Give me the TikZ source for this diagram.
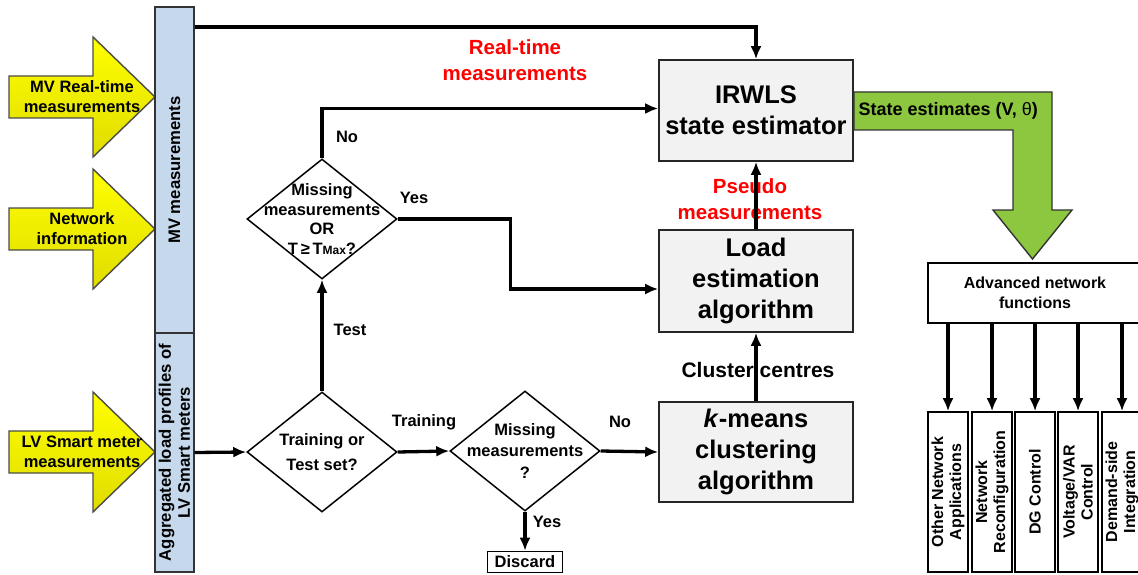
\documentclass[tikz,border=0pt]{standalone}
\usepackage{fontspec}
\setmainfont{Liberation Sans}
\usetikzlibrary{shapes.geometric,arrows.meta}
\definecolor{barblue}{RGB}{198,217,236}
\definecolor{boxgray}{RGB}{242,242,242}
\definecolor{estgreen}{RGB}{141,198,63}
\definecolor{yellowtop}{RGB}{255,255,0}
\definecolor{yellowbot}{RGB}{224,220,0}
\newcommand{\fsz}[2]{\fontsize{#1}{#2}\selectfont}

\begin{document}
\begin{tikzpicture}[x=1pt, y=-1pt, font=\bfseries,
  arr/.style={-{Latex[length=13pt,width=11pt]}, line width=3.3pt},
  blk/.style={draw=black!85, line width=1.6pt, fill=boxgray, minimum width=194,
    minimum height=101, align=center, font=\bfseries\fsz{25.5}{31}},
  dia/.style={draw, diamond, line width=1.5pt, minimum width=150,
    minimum height=120, inner sep=0pt},
  dtxt/.style={align=center, font=\bfseries\fsz{16.5}{19.5}},
  lbl/.style={align=center, font=\bfseries\fsz{16.5}{20}},
  redlbl/.style={align=center, text=red, font=\bfseries\fsz{20.5}{26}},
  bar/.style={draw=black!80, line width=1.4pt, fill=barblue, rotate=90,
    minimum height=39, inner sep=0pt, align=center, font=\bfseries\fsz{16.7}{19}},
  yarrow/.style={draw=black!70, line width=1.4pt, top color=yellowtop,
    bottom color=yellowbot},
  app/.style={draw, line width=1.6pt, rotate=90, minimum width=160,
    minimum height=40, inner sep=0pt, align=center, font=\bfseries\fsz{16}{18}}]
  \useasboundingbox (0,0) rectangle (1138,575);
  \clip (0,0) rectangle (1138,575);

  % inputs
  \foreach \c/\txt/\nm in {97/{MV Real-time\\measurements}/mvin,
      229/{Network\\information}/netin, 452/{LV Smart meter\\measurements}/lvin} {
    \draw[yarrow] (9,\c-21) -- (93,\c-21) -- (93,\c-60) -- (155,\c)
      -- (93,\c+60) -- (93,\c+21) -- (9,\c+21) -- cycle;
    \node[lbl] (\nm) at (82,\c) {\txt};
  }
  \node[bar, minimum width=326] (mvbar) at (174.5,170) {MV measurements};
  \node[bar, minimum width=239] (lvbar) at (174.5,452.5)
    {Aggregated load profiles of\\LV Smart meters};

  % decisions
  \node[dia, label={[dtxt, font=\bfseries\fsz{16.5}{25}]center:{Training or\\Test set?}}]
    (q0) at (322,452) {};
  \node[dia, label={[dtxt]center:{Missing\\measurements\\OR\\T\,≥\,T{\fsz{12}{12}Max}?}}]
    (q1) at (322,219) {};
  \node[dia, label={[dtxt, font=\bfseries\fsz{16.5}{21.5}]center:{Missing\\measurements\\?}}]
    (q2) at (525,451) {};
  \node[draw, line width=1.6pt, minimum width=75, minimum height=21, inner sep=0pt,
    lbl] (discard) at (525,562) {Discard};

  % blocks
  \node[blk] (irwls) at (756,110.5) {IRWLS\\state estimator};
  \node[blk, minimum height=102] (load) at (756,281) {Load\\estimation\\algorithm};
  \node[blk, minimum height=100] (kmeans) at (756,452)
    {\textit{k}-means\\clustering\\algorithm};

  % labels
  \node[redlbl] (rtlbl) at (515,60) {Real-time\\measurements};
  \node[redlbl] (pslbl) at (750,199) {Pseudo\\measurements};
  \node[lbl, font=\bfseries\fsz{21}{22}] (cclbl) at (758,370) {Cluster centres};
  \node[lbl] (testlbl) at (350,330) {Test};
  \node[lbl] (nolbl) at (347,137) {No};
  \node[lbl] (yeslbl) at (414,198) {Yes};
  \node[lbl] (trlbl) at (424,422) {Training};
  \node[lbl] (no2lbl) at (620,422) {No};
  \node[lbl] (yes2lbl) at (547,522) {Yes};

  % connectors
  \draw[arr] (mvbar.south |- 0,27) -- (irwls.north |- 0,27) -- (irwls.north);
  \draw[arr] (lvbar.south) -- (q0.west);
  \draw[arr] (q0.north) -- (q1.south);
  \draw[arr] (q1.north) |- ([yshift=2pt]irwls.west);
  \draw[arr] (q1.east) -- ++(113,0) |- ([yshift=-8pt]load.west);
  \draw[arr] (q0.east) -- (q2.west);
  \draw[arr] (q2.east) -- (kmeans.west);
  \draw[arr] (q2.south) -- (discard.north);
  \draw[arr] (kmeans.north) -- (load.south);
  \draw[arr] (load.north) -- (irwls.south);

  % outputs
  \draw[draw=black!80, line width=1.4pt, fill=estgreen] (irwls.east |- 0,92)
    -- (1052,92) -- (1052,210) -- (1072,210) -- (1032.5,259) -- (993,210)
    -- (1013,210) -- (1013,130) -- (irwls.east |- 0,130) -- cycle;
  \node[lbl, font=\bfseries\fsz{18}{20}, anchor=west] (estlbl) at (855,111)
    {State estimates (V, {\mdseries θ})};
  \node[draw, line width=1.6pt, minimum width=214, minimum height=60, align=center,
    font=\bfseries\fsz{16}{20}] (adv) at (1035,293) {Advanced network\\functions};
  \foreach \x/\txt [count=\i] in {948/{Other Network\\Applications},
      992/{Network\\Reconfiguration}, 1035/{DG Control},
      1078/{Voltage/VAR\\Control}, 1122/{Demand-side\\Integration}} {
    \node[app] (app\i) at (\x,492) {\txt};
    \draw[arr] (app\i.east |- adv.south) -- (app\i.east);
  }
\end{tikzpicture}
\end{document}
